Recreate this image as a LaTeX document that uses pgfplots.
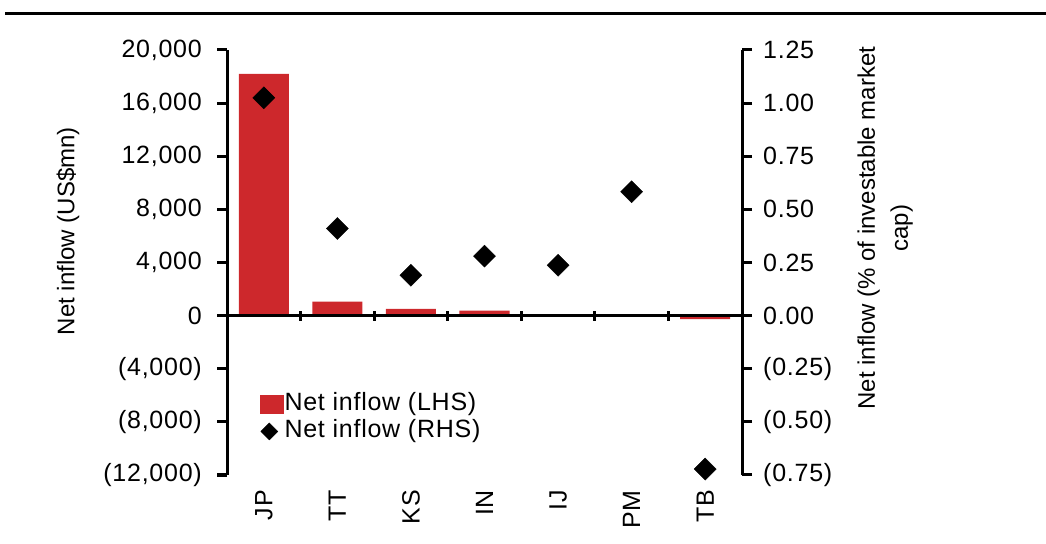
\documentclass[border=0pt]{standalone}
\usepackage{pgfplots}
\pgfplotsset{compat=1.18}
\usepackage{fontspec}
\setmainfont{Liberation Sans}[LetterSpace=3]
\newfontfamily\labelfont{Liberation Sans}
\definecolor{barred}{RGB}{205,40,44}
\begin{document}
\begin{tikzpicture}[font=\fontsize{25bp}{30bp}\selectfont]
\useasboundingbox (0,0) rectangle (1046bp,544bp);
\draw[line width=2.8bp] (5bp,530.5bp) -- (1046bp,530.5bp);
\pgfplotsset{
  base/.style={at={(227bp,69bp)}, anchor=south west, scale only axis,
    width=515bp, height=425bp, xmin=-0.5, xmax=6.5,
    major tick length=10bp, tick align=outside,
    every tick/.append style={line width=3bp, black},
    every major tick/.append style={line width=3bp, black},
    every outer y axis line/.append style={line width=3bp, black},
    every inner x axis line/.append style={line width=3bp, black},
    scaled y ticks=false},
}
% Left axis: bars
\begin{axis}[base, ymin=-12000, ymax=20000,
  axis y line*=left, axis x line*=bottom,
  x axis line style={draw=none},
  xtick={0,1,2,3,4,5,6},
  xticklabels={JP,TT,KS,IN,IJ,PM,TB},
  x tick style={draw=none},
  xticklabel style={rotate=90, anchor=east, inner sep=5bp},
  ytick={-12000,-8000,-4000,0,4000,8000,12000,16000,20000},
  yticklabels={{(12,000)},{(8,000)},{(4,000)},{0},{4,000},{8,000},{12,000},{16,000},{20,000}},
  yticklabel style={inner sep=0pt, xshift=-15bp},
  every axis y label/.style={at={(axis description cs:-0.309,0.574)}, anchor=center, rotate=90, font=\labelfont\fontsize{24bp}{30bp}\selectfont},
  ylabel={Net inflow (US\$mn)},
]
\addplot[ybar, bar width=0.68, fill=barred, draw=none] coordinates {(0,18200) (1,1060) (2,510) (3,370) (4,0) (5,0) (6,-270)};
\end{axis}
% Zero line with category separators
\begin{axis}[base, ymin=-12000, ymax=20000,
  axis x line=middle, axis y line=none,
  x axis line style={-, line width=3bp},
  xtick={0.5,1.5,2.5,3.5,4.5,5.5}, xticklabels={},
  ytick=\empty]
\end{axis}
% Right axis: diamonds
\begin{axis}[base, ymin=-0.75, ymax=1.25,
  axis y line*=right, axis x line=none,
  ytick={-0.75,-0.5,-0.25,0,0.25,0.5,0.75,1,1.25},
  yticklabels={(0.75),(0.50),(0.25),0.00,0.25,0.50,0.75,1.00,1.25},
  yticklabel style={inner sep=0pt, xshift=11bp},
  every axis y label/.style={at={(axis description cs:1.278,0.581)}, anchor=center, rotate=90, align=center, font=\labelfont\fontsize{24bp}{33bp}\selectfont},
  ylabel={Net inflow (\% of investable market\\cap)},
  legend style={at={(axis description cs:0.064,0.196)}, anchor=north west, draw=none, fill=none, inner sep=0pt, row sep=2bp, nodes={inner sep=1bp, text height=18bp, text depth=5bp}},
  legend cell align=left,
]
\addlegendimage{legend image code/.code={\fill[barred] (0bp,-9bp) rectangle (23bp,9bp);}}
\addlegendentry{Net inflow (LHS)}
\addplot[only marks, mark=square*, mark size=7.8bp, mark options={rotate=45, fill=black, draw=black},
  legend image code/.code={\fill[black] (0.5bp,0bp) -- (9bp,8.5bp) -- (17.5bp,0bp) -- (9bp,-8.5bp) -- cycle;}]
  coordinates {(0,1.025) (1,0.41) (2,0.19) (3,0.28) (4,0.237) (5,0.583) (6,-0.722)};
\addlegendentry{Net inflow (RHS)}
\end{axis}
\end{tikzpicture}
\end{document}
